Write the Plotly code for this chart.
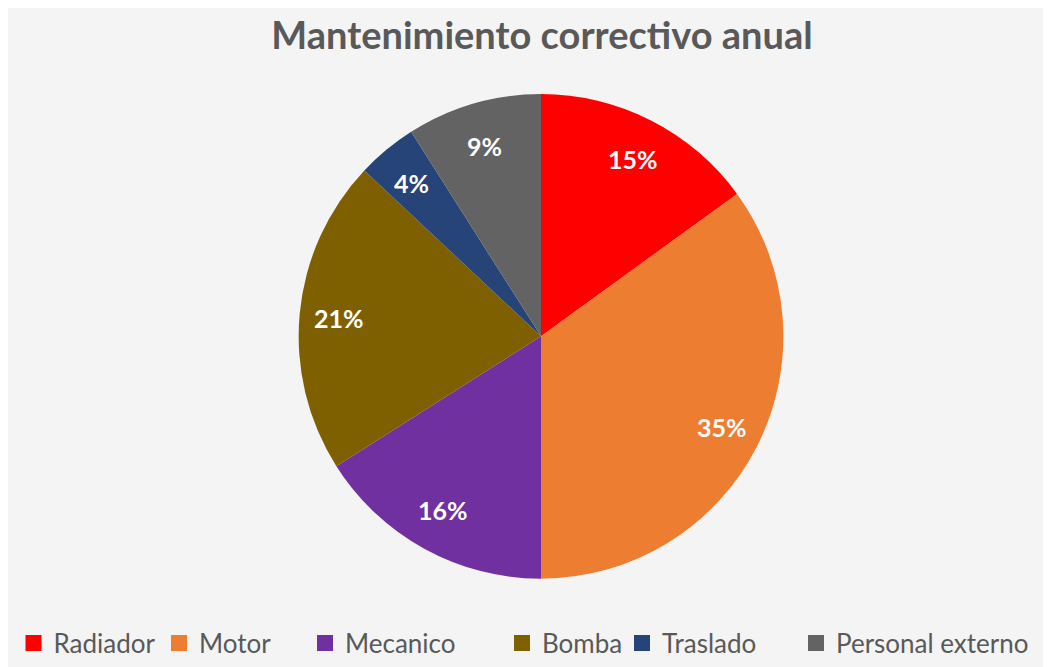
import math
import plotly.graph_objects as go

categories = ["Radiador", "Motor", "Mecanico", "Bomba", "Traslado", "Personal externo"]
values = [15, 35, 16, 21, 4, 9]
colors = ["#FF0000", "#ED7D31", "#7030A0", "#7F6000", "#264478", "#636363"]

W, H = 1043, 659           # page body has an 8px margin
CX, CY, R = 533, 336, 245  # pie centre / radius in figure pixels
legend_left_px = [5.5, 151, 297, 494, 614, 788]

fig = go.Figure()
RD = R + 3
fig.add_trace(go.Pie(
    labels=categories, values=values, sort=False, direction="clockwise", rotation=0,
    marker=dict(colors=colors, line=dict(width=0)),
    textinfo="none",
    domain=dict(x=[(CX - RD) / W, (CX + RD) / W], y=[1 - (CY + RD) / H, 1 - (CY - RD) / H]),
    showlegend=False, hoverinfo="label+percent",
))

# percentage labels placed along each slice's mid-angle, like Excel
total = sum(values)
annotations = []
cum = 0
for v in values:
    mid = (cum + v / 2) / total * 2 * math.pi
    cum += v
    f = 0.83
    px = CX + f * R * math.sin(mid)
    py = CY - f * R * math.cos(mid)
    annotations.append(dict(
        x=px / W, y=1 - py / H, xref="paper", yref="paper", showarrow=False,
        text=f"<b>{round(v / total * 100)}%</b>", xanchor="center", yanchor="middle",
        font=dict(family="Lato", size=25, color="white"),
    ))

layout_legends = {}
for i, (c, col, lx) in enumerate(zip(categories, colors, legend_left_px)):
    name = "legend" if i == 0 else f"legend{i+1}"
    fig.add_trace(go.Scatter(
        x=[None], y=[None], mode="markers", name=c,
        marker=dict(symbol="square", size=16, color=col),
        legend=name, showlegend=True, hoverinfo="skip",
    ))
    layout_legends[name] = dict(
        x=lx / W, y=1 - 650 / H, xanchor="left", yanchor="middle", orientation="h",
        bgcolor="rgba(0,0,0,0)", itemsizing="trace", itemwidth=30,
        font=dict(family="Lato", size=26, color="#595959"),
        borderwidth=0,
    )

fig.update_layout(
    width=W, height=H,
    margin=dict(l=0, r=0, t=0, b=0),
    paper_bgcolor="#f4f4f4", plot_bgcolor="rgba(0,0,0,0)",
    title=dict(text="<b>Mantenimiento correctivo anual</b>", x=534 / W, xanchor="center",
               y=1 - 28 / H, yanchor="middle",
               font=dict(family="Lato", size=38, color="#595959")),
    xaxis=dict(visible=False), yaxis=dict(visible=False),
    annotations=annotations,
    **layout_legends,
)

fig.write_html("out.html")
